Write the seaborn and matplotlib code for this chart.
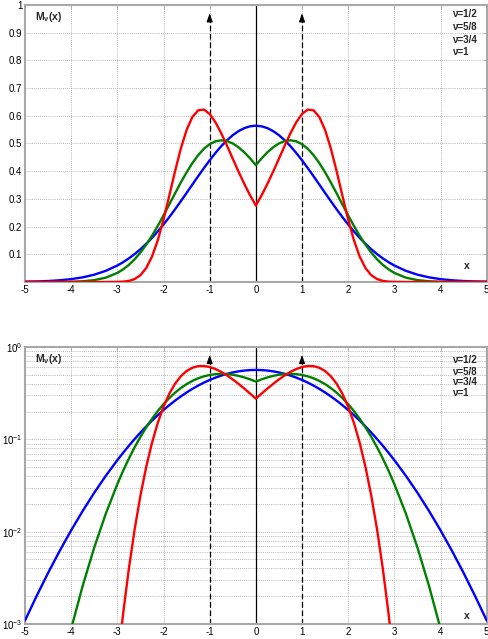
import matplotlib
matplotlib.use("Agg")
import matplotlib.pyplot as plt
import pandas as pd
import seaborn as sns
from matplotlib.ticker import FixedLocator, LogLocator, NullFormatter

# ---------------- data ----------------
x_vals = [-5.0, -4.75, -4.5, -4.25, -4.0, -3.75, -3.5, -3.25, -3.0, -2.875, -2.75, -2.625,
          -2.5, -2.375, -2.25, -2.125, -2.0, -1.875, -1.75, -1.625, -1.5, -1.375,
          -1.25, -1.125, -1.0, -0.875, -0.75, -0.625, -0.5, -0.375, -0.25, -0.125,
          0.0,
          0.125, 0.25, 0.375, 0.5, 0.625, 0.75, 0.875, 1.0, 1.125, 1.25,
          1.375, 1.5, 1.625, 1.75, 1.875, 2.0, 2.125, 2.25, 2.375, 2.5,
          2.625, 2.75, 2.875, 3.0, 3.25, 3.5, 3.75, 4.0, 4.25, 4.5, 4.75, 5.0]

# nu = 1/2 (blue)
m_nu_1_2 = [0.00109, 0.00200, 0.00357, 0.00617, 0.01033, 0.01677, 0.02639, 0.04024, 0.05947, 0.07145, 0.08518, 0.10076,
            0.11826, 0.13772, 0.15914, 0.18245, 0.20755, 0.23427, 0.26237, 0.29156, 0.32147, 0.35168,
            0.38175, 0.41116, 0.43939, 0.46591, 0.49018, 0.51170, 0.53001, 0.54470, 0.55544, 0.56199,
            0.56419,
            0.56199, 0.55544, 0.54470, 0.53001, 0.51170, 0.49018, 0.46591, 0.43939, 0.41116, 0.38175,
            0.35168, 0.32147, 0.29156, 0.26237, 0.23427, 0.20755, 0.18245, 0.15914, 0.13772, 0.11826,
            0.10076, 0.08518, 0.07145, 0.05947, 0.04024, 0.02639, 0.01677, 0.01033, 0.00617, 0.00357, 0.00200, 0.00109]

# nu = 5/8 (green)
m_nu_5_8 = [0.0000035, 0.0000169, 0.0000722, 0.000269, 0.000888, 0.002591, 0.006732, 0.01565, 0.03273, 0.04556, 0.06186, 0.08200,
            0.10625, 0.13455, 0.16669, 0.20217, 0.24024, 0.27989, 0.31989, 0.35902, 0.39591, 0.42920,
            0.45780, 0.48081, 0.49760, 0.50783, 0.51147, 0.50874, 0.50014, 0.48633, 0.46810, 0.44632,
            0.42186,
            0.44632, 0.46810, 0.48633, 0.50014, 0.50874, 0.51147, 0.50783, 0.49760, 0.48081, 0.45780,
            0.42920, 0.39591, 0.35902, 0.31989, 0.27989, 0.24024, 0.20217, 0.16669, 0.13455, 0.10625,
            0.08200, 0.06186, 0.04556, 0.03273, 0.01565, 0.006732, 0.002591, 0.000888, 0.000269, 0.0000722, 0.0000169, 0.0000035]

# nu = 3/4 (red)
m_nu_3_4 = [7e-29, 1.4e-23, 4.4e-19, 2.9e-15, 4.5e-12, 2.0e-9, 2.8e-7, 1.51e-5, 0.0003516, 0.001285, 0.003978, 0.010585,
            0.02453, 0.05011, 0.09134, 0.15022, 0.22513, 0.31128, 0.39978, 0.48151, 0.54874, 0.59547,
            0.61971, 0.62238, 0.60660, 0.57666, 0.53711, 0.49209, 0.44503, 0.39845, 0.35412, 0.31306,
            0.27582,
            0.31306, 0.35412, 0.39845, 0.44503, 0.49209, 0.53711, 0.57666, 0.60660, 0.62238, 0.61971,
            0.59547, 0.54874, 0.48151, 0.39978, 0.31128, 0.22513, 0.15022, 0.09134, 0.05011, 0.02453,
            0.010585, 0.003978, 0.001285, 0.0003516, 1.51e-5, 2.8e-7, 2.0e-9, 4.5e-12, 2.9e-15, 4.4e-19, 1.4e-23, 7e-29]

nu_labels = ["\u03bd=1/2", "\u03bd=5/8", "\u03bd=3/4", "\u03bd=1"]
nu1_delta_x = [-1, 1]          # nu = 1 : delta spikes at x = -1, +1

x_ticks = [-5, -4, -3, -2, -1, 0, 1, 2, 3, 4, 5]
x_tick_labels = ["-5", "-4", "-3", "-2", "-1", "0", "1", "2", "3", "4", "5"]
lin_y_ticks = [0.1, 0.2, 0.3, 0.4, 0.5, 0.6, 0.7, 0.8, 0.9, 1.0]
lin_y_tick_labels = ["0.1", "0.2", "0.3", "0.4", "0.5", "0.6", "0.7", "0.8", "0.9", "1"]
log_y_ticks = [1e-3, 1e-2, 1e-1, 1e0]

# ---------------- styling ----------------
sns.set_theme(style="white")
plt.rcParams["font.family"] = ["Liberation Sans", "DejaVu Sans"]
plt.rcParams["axes.unicode_minus"] = False
plt.rcParams["mathtext.fontset"] = "custom"
plt.rcParams["mathtext.rm"] = "Liberation Sans"
plt.rcParams["mathtext.bf"] = "Liberation Sans:bold"
plt.rcParams["mathtext.it"] = "Liberation Sans:italic"

colors = ["#0000ff", "#008000", "#ff0000"]
spine_col = "#a8a8a8"
grid_col = "#a0a0a0"

n = len(x_vals)
df = pd.DataFrame({
    "x": x_vals * 3,
    "M": m_nu_1_2 + m_nu_5_8 + m_nu_3_4,
    "nu": [nu_labels[0]] * n + [nu_labels[1]] * n + [nu_labels[2]] * n,
})

fig = plt.figure(figsize=(4.89, 6.39), dpi=100)
ax1 = fig.add_axes([0.0511, 0.5587, 0.9442, 0.4335])
ax2 = fig.add_axes([0.0511, 0.0235, 0.9442, 0.4335])


def style_axes(ax):
    for s in ax.spines.values():
        s.set_color(spine_col)
        s.set_linewidth(1.5)
    ax.tick_params(which="both", direction="in", color=spine_col, width=0.6,
                   top=True, right=True, labelsize=7, pad=2, labelcolor="black")
    ax.tick_params(which="major", length=3)
    ax.tick_params(which="minor", length=1.8)
    ax.set_xlim(-5, 5)
    ax.xaxis.set_major_locator(FixedLocator(x_ticks))
    ax.set_xticklabels(x_tick_labels)
    ax.set_xlabel("")
    ax.set_ylabel("")


def draw_curves(ax):
    sns.lineplot(data=df, x="x", y="M", hue="nu", hue_order=nu_labels[:3], palette=colors,
                 linewidth=1.7, legend=False, estimator=None, sort=False, ax=ax)
    for line in ax.get_lines():
        line.set_solid_joinstyle("round")
        line.set_solid_capstyle("round")
        line.set_zorder(3)


# ---------- top: linear ----------
ax = ax1
draw_curves(ax)
ax.set_ylim(0, 1)
style_axes(ax)
ax.yaxis.set_major_locator(FixedLocator(lin_y_ticks))
ax.set_yticklabels(lin_y_tick_labels)
ax.grid(True, which="major", linestyle=(0, (1, 1.5)), color=grid_col, linewidth=0.6)
ax.set_axisbelow(True)
ax.axvline(0, color="black", linewidth=0.9, zorder=2)
tip = 0.97
ax.vlines(nu1_delta_x, 0, tip - 0.02, colors="black", linestyles=(0, (4.5, 2.2)),
          linewidth=0.9, zorder=2)
for p in nu1_delta_x:
    ax.annotate("", xy=(p, tip), xytext=(p, tip - 0.025),
                arrowprops=dict(arrowstyle="-|>,head_length=0.42,head_width=0.15",
                                color="black", lw=0.8, shrinkA=0, shrinkB=0))
ax.text(-4.78, 0.957, r"$\mathbf{M_{\nu}(x)}$", fontsize=7.5, ha="left", va="center")
ax.text(4.57, 0.059, "x", fontsize=7.5, fontweight="bold", ha="center", va="center")
for lab, yf in zip(nu_labels, [0.9675, 0.9206, 0.8736, 0.830]):
    ax.text(0.924, yf, lab, transform=ax.transAxes, fontsize=7, fontweight="bold",
            ha="left", va="center")

# ---------- bottom: log ----------
ax = ax2
draw_curves(ax)
ax.set_yscale("log")
ax.set_ylim(1e-3, 1)
style_axes(ax)
ax.yaxis.set_major_locator(FixedLocator(log_y_ticks))
ax.yaxis.set_minor_locator(LogLocator(base=10, subs=range(2, 10)))
ax.yaxis.set_minor_formatter(NullFormatter())
ax.grid(True, which="major", axis="x", linestyle=(0, (1, 1.5)), color=grid_col, linewidth=0.6)
ax.grid(True, which="both", axis="y", linestyle=(0, (1, 1.5)), color=grid_col, linewidth=0.6)
ax.set_axisbelow(True)
ax.axvline(0, color="black", linewidth=0.9, zorder=2)
tip_log = 0.82
ax.vlines(nu1_delta_x, 1e-3, tip_log * 0.93, colors="black", linestyles=(0, (4.5, 2.2)),
          linewidth=0.9, zorder=2)
for p in nu1_delta_x:
    ax.annotate("", xy=(p, tip_log), xytext=(p, tip_log * 0.88),
                arrowprops=dict(arrowstyle="-|>,head_length=0.42,head_width=0.15",
                                color="black", lw=0.8, shrinkA=0, shrinkB=0))
ax.text(-4.78, 0.736, r"$\mathbf{M_{\nu}(x)}$", fontsize=7.5, ha="left", va="center")
ax.text(4.57, 1.23e-3, "x", fontsize=7.5, fontweight="bold", ha="center", va="center")
for lab, yf in zip(nu_labels, [0.953, 0.911, 0.8726, 0.833]):
    ax.text(0.924, yf, lab, transform=ax.transAxes, fontsize=7, fontweight="bold",
            ha="left", va="center")

fig.savefig("out.png", dpi=100)
